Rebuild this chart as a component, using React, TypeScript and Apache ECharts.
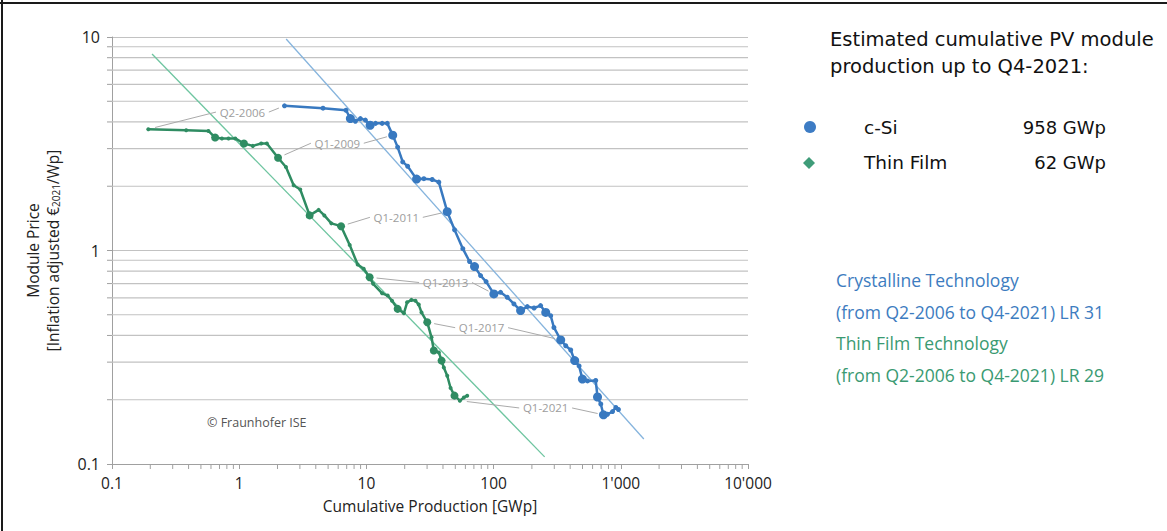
import React, { useEffect, useRef } from "react";
import * as echarts from "echarts";

// Axis ranges (GWp on x, €/Wp on y)
const X_MIN = 0.1;
const X_MAX = 10000;
const Y_MIN = 0.1;
const Y_MAX = 10;

const xTickLabels = ["0.1", "1", "10", "100", "1'000", "10'000"];
const yTickLabels = ["0.1", "1", "10"];

// Crystalline silicon: cumulative production [GWp] and module price [€2021/Wp]
const cSiProduction = [
  2.27, 4.56, 6.92, 7.48, 8.19, 8.97, 9.82, 10.7, 11.8, 13.3, 14.6, 16.1, 17.6, 19.3, 21.1,
  24.8, 28.3, 32.9, 37.1, 43.2, 49.3, 57.3, 64.7, 70.8, 79.0, 87.3, 100.5, 113.5, 128, 144.5,
  163, 184, 208, 234, 257, 281, 298, 337, 369, 404, 434, 470, 499, 547, 635, 656, 696, 731,
  785, 861, 914, 958,
];
const cSiPrice = [
  4.76, 4.64, 4.54, 4.15, 4.03, 4.15, 4.08, 3.86, 3.94, 3.94, 3.94, 3.47, 3.05, 2.6, 2.48,
  2.16, 2.17, 2.15, 2.09, 1.52, 1.25, 1.02, 0.888, 0.841, 0.763, 0.715, 0.626, 0.637, 0.604,
  0.562, 0.523, 0.546, 0.538, 0.552, 0.513, 0.495, 0.436, 0.381, 0.358, 0.342, 0.305, 0.288,
  0.25, 0.245, 0.246, 0.206, 0.191, 0.17, 0.171, 0.176, 0.184, 0.18,
];
const cSiYearStart = [3, 7, 11, 15, 19, 23, 26, 30, 34, 37, 40, 42, 45, 47];

// Thin film: cumulative production [GWp] and module price [€2021/Wp]
const thinFilmProduction = [
  0.193, 0.383, 0.573, 0.647, 0.731, 0.824, 0.931, 1.09, 1.28, 1.49, 1.65, 2.02, 2.33, 2.68,
  3.02, 3.58, 4.21, 4.67, 5.3, 6.32, 7.39, 8.54, 9.52, 10.6, 11.3, 13.3, 14.7, 15.9, 17.6,
  19.7, 20.9, 22.6, 24.3, 25.8, 27.1, 30.1, 32.5, 33.9, 37.1, 39.0, 40.6, 43.2, 45.9, 49.3,
  54.3, 58.4, 62,
];
const thinFilmPrice = [
  3.7, 3.66, 3.63, 3.38, 3.35, 3.35, 3.35, 3.17, 3.09, 3.17, 3.17, 2.72, 2.46, 2.02, 1.93,
  1.46, 1.55, 1.46, 1.34, 1.3, 1.06, 0.86, 0.821, 0.749, 0.698, 0.63, 0.615, 0.582, 0.533,
  0.508, 0.572, 0.587, 0.582, 0.558, 0.513, 0.461, 0.392, 0.34, 0.333, 0.305, 0.283, 0.259,
  0.227, 0.209, 0.198, 0.205, 0.209,
];
const thinFilmYearStart = [3, 7, 11, 15, 19, 23, 28, 35, 37, 39, 43];

// Learning-curve fits
const cSiTrendProduction = [2.34, 1517];
const cSiTrendPrice = [9.79, 0.131];
const thinTrendProduction = [0.2065, 252];
const thinTrendPrice = [8.32, 0.108];

// Quarter annotations: label anchor and the points each leader line reaches
const quarterLabels = ["Q2-2006", "Q1-2009", "Q1-2011", "Q1-2013", "Q1-2017", "Q1-2021"];
const labelProduction = [1.06, 5.91, 17.2, 41.9, 80.5, 256.6];
const labelPrice = [4.45, 3.18, 1.43, 0.708, 0.435, 0.183];
const labelThinIndex = [0, 11, 19, 23, 35, 44];
const labelCSiIndex = [0, 11, 19, 26, 37, 47];

// Minor log-scale positions
const minorPrices = [0.2, 0.3, 0.4, 0.5, 0.6, 0.7, 0.8, 0.9, 2, 3, 4, 5, 6, 7, 8, 9];
const minorProductions = [
  0.2, 0.3, 0.4, 0.5, 0.6, 0.7, 0.8, 0.9, 2, 3, 4, 5, 6, 7, 8, 9, 20, 30, 40, 50, 60, 70, 80,
  90, 200, 300, 400, 500, 600, 700, 800, 900, 2000, 3000, 4000, 5000, 6000, 7000, 8000, 9000,
];

const FONT = '"Open Sans", "Noto Sans", sans-serif';
const WIDE_FONT = '"DejaVu Sans", "Open Sans", sans-serif';
const BLUE = "#3879c0";
const GREEN = "#2f8c62";
const BLUE_TREND = "#86b4dd";
const GREEN_TREND = "#6ec5a0";
const GRID = "#c2c2c2";
const AXIS = "#a0a0a0";
const NOTE = "#9d9d9d";
const TEXT = "#222222";
const BLUE_TEXT = "#3d7cc0";
const GREEN_TEXT = "#3a9a72";

const logIndex = (v: number) => Math.round(Math.log10(v));

export default function App() {
  const ref = useRef<HTMLDivElement>(null);

  useEffect(() => {
    if (!ref.current) return;
    const chart = echarts.init(ref.current, null, { renderer: "svg" });

    const cSiData = cSiProduction.map((x, i) => ({
      value: [x, cSiPrice[i]],
      symbolSize: cSiYearStart.includes(i) ? 9 : 5,
    }));
    const thinData = thinFilmProduction.map((x, i) => ({
      value: [x, thinFilmPrice[i]],
      symbolSize: thinFilmYearStart.includes(i) ? 8 : 4,
    }));

    const option: any = {
      animation: false,
      backgroundColor: "#ffffff",
      textStyle: { fontFamily: FONT },
      grid: { left: 112, right: 419, top: 37, bottom: 67 },
      xAxis: {
        type: "log",
        logBase: 10,
        min: X_MIN,
        max: X_MAX,
        axisLine: { show: true, lineStyle: { color: AXIS, width: 1 } },
        axisTick: { show: true, length: 5, lineStyle: { color: AXIS, width: 1 } },
        splitLine: { show: false },
        axisLabel: {
          color: TEXT,
          fontSize: 15.5,
          fontFamily: FONT,
          margin: 11,
          formatter: (v: number) => xTickLabels[logIndex(v) + 1] ?? "",
        },
        name: "Cumulative Production [GWp]",
        nameLocation: "middle",
        nameGap: 34,
        nameTextStyle: { color: TEXT, fontSize: 15.5, fontFamily: FONT },
      },
      yAxis: {
        type: "log",
        logBase: 10,
        min: Y_MIN,
        max: Y_MAX,
        axisLine: { show: true, lineStyle: { color: AXIS, width: 1 } },
        axisTick: { show: true, length: 5, lineStyle: { color: AXIS, width: 1 } },
        splitLine: { show: true, lineStyle: { color: GRID, width: 1.2 } },
        axisLabel: {
          color: TEXT,
          fontSize: 16,
          fontFamily: FONT,
          margin: 12,
          formatter: (v: number) => yTickLabels[logIndex(v) + 1] ?? "",
        },
        name: "{t|Module Price}\n{t|[Inflation adjusted €}{s|2021}{t|/Wp]}",
        nameLocation: "middle",
        nameGap: 49,
        nameRotate: 90,
        nameTextStyle: {
          rich: {
            t: { fontSize: 15.5, color: TEXT, fontFamily: FONT, lineHeight: 20 },
            s: {
              fontSize: 10,
              color: TEXT,
              fontFamily: FONT,
              lineHeight: 20,
              verticalAlign: "bottom",
              padding: [0, 0, 2, 0],
            },
          },
        },
      },
      series: [
        {
          // minor horizontal gridlines with their ticks
          type: "custom",
          z: 1,
          silent: true,
          clip: false,
          data: minorPrices.map((v) => [X_MIN, v]),
          encode: { x: 0, y: 1 },
          renderItem: (_p: any, api: any) => {
            const v = api.value(1);
            const a = api.coord([X_MIN, v]);
            const b = api.coord([X_MAX, v]);
            return {
              type: "group",
              children: [
                {
                  type: "line",
                  shape: { x1: a[0], y1: a[1], x2: b[0], y2: b[1] },
                  style: { stroke: GRID, lineWidth: 1.2 },
                },
                {
                  type: "line",
                  shape: { x1: a[0] - 5, y1: a[1], x2: a[0], y2: a[1] },
                  style: { stroke: AXIS, lineWidth: 1 },
                },
              ],
            };
          },
        },
        {
          // minor ticks on the production axis
          type: "custom",
          z: 1,
          silent: true,
          clip: false,
          data: minorProductions.map((v) => [v, Y_MIN]),
          encode: { x: 0, y: 1 },
          renderItem: (_p: any, api: any) => {
            const p = api.coord([api.value(0), Y_MIN]);
            return {
              type: "line",
              shape: { x1: p[0], y1: p[1], x2: p[0], y2: p[1] + 5 },
              style: { stroke: AXIS, lineWidth: 1 },
            };
          },
        },
        {
          name: "c-Si trend",
          type: "line",
          z: 2,
          silent: true,
          symbol: "none",
          data: cSiTrendProduction.map((x, i) => [x, cSiTrendPrice[i]]),
          lineStyle: { color: BLUE_TREND, width: 1.3 },
        },
        {
          name: "Thin Film trend",
          type: "line",
          z: 2,
          silent: true,
          symbol: "none",
          data: thinTrendProduction.map((x, i) => [x, thinTrendPrice[i]]),
          lineStyle: { color: GREEN_TREND, width: 1.3 },
        },
        {
          // quarter annotations with leader lines
          type: "custom",
          z: 3,
          silent: true,
          clip: false,
          data: quarterLabels.map((_, i) => [labelProduction[i], labelPrice[i], i]),
          encode: { x: 0, y: 1 },
          renderItem: (_p: any, api: any) => {
            const i = api.value(2);
            const c = api.coord([api.value(0), api.value(1)]);
            const gi = labelThinIndex[i];
            const bi = labelCSiIndex[i];
            const g = api.coord([thinFilmProduction[gi], thinFilmPrice[gi]]);
            const b = api.coord([cSiProduction[bi], cSiPrice[bi]]);
            const hw = (quarterLabels[i].length * 6.7) / 2;
            const L = [c[0] - hw - 3, c[1]];
            const R = [c[0] + hw + 3, c[1]];
            const shorten = (from: number[], to: number[], gap: number) => {
              const dx = to[0] - from[0];
              const dy = to[1] - from[1];
              const d = Math.hypot(dx, dy) || 1;
              return [from[0] + (dx / d) * gap, from[1] + (dy / d) * gap];
            };
            const gs = shorten(g, L, 7);
            const be = shorten(b, R, 6);
            return {
              type: "group",
              children: [
                {
                  type: "line",
                  shape: { x1: gs[0], y1: gs[1], x2: L[0], y2: L[1] },
                  style: { stroke: "#aaaaaa", lineWidth: 1 },
                },
                {
                  type: "line",
                  shape: { x1: R[0], y1: R[1], x2: be[0], y2: be[1] },
                  style: { stroke: "#aaaaaa", lineWidth: 1 },
                },
                {
                  type: "text",
                  x: c[0],
                  y: c[1],
                  style: {
                    text: quarterLabels[i],
                    fill: NOTE,
                    fontSize: 11.5,
                    fontFamily: FONT,
                    align: "center",
                    verticalAlign: "middle",
                  },
                },
              ],
            };
          },
        },
        {
          name: "Thin Film",
          type: "line",
          z: 4,
          silent: true,
          symbol: "circle",
          data: thinData,
          lineStyle: { color: GREEN, width: 2.5 },
          itemStyle: { color: GREEN },
        },
        {
          name: "c-Si",
          type: "line",
          z: 5,
          silent: true,
          symbol: "circle",
          data: cSiData,
          lineStyle: { color: BLUE, width: 2.5 },
          itemStyle: { color: BLUE },
        },
      ],
      graphic: [
        // frame
        { type: "line", shape: { x1: 0, y1: 3, x2: 1167, y2: 3 }, style: { stroke: "#1a1a1a", lineWidth: 2 } },
        { type: "line", shape: { x1: 2, y1: 0, x2: 2, y2: 531 }, style: { stroke: "#1a1a1a", lineWidth: 2 } },
        {
          type: "text",
          left: 207,
          top: 416,
          style: { text: "© Fraunhofer ISE", fill: "#555555", fontSize: 12.5, fontFamily: FONT },
        },
        {
          type: "text",
          left: 830,
          top: 26,
          style: {
            text: "Estimated cumulative PV module\nproduction up to Q4-2021:",
            fill: "#111111",
            fontSize: 19.5,
            lineHeight: 27,
            fontFamily: WIDE_FONT,
          },
        },
        { type: "circle", shape: { cx: 810, cy: 127, r: 6 }, style: { fill: "#3d7cc4" } },
        {
          type: "polygon",
          shape: { points: [[809, 157], [815, 163], [809, 169], [803, 163]] },
          style: { fill: "#3f9c79" },
        },
        {
          type: "text",
          x: 864,
          y: 127,
          style: { text: "c-Si", fill: "#111111", fontSize: 18.5, fontFamily: WIDE_FONT, verticalAlign: "middle" },
        },
        {
          type: "text",
          x: 1106,
          y: 127,
          style: {
            text: "958 GWp",
            fill: "#111111",
            fontSize: 18,
            fontFamily: WIDE_FONT,
            align: "right",
            verticalAlign: "middle",
          },
        },
        {
          type: "text",
          x: 864,
          y: 162,
          style: { text: "Thin Film", fill: "#111111", fontSize: 18.5, fontFamily: WIDE_FONT, verticalAlign: "middle" },
        },
        {
          type: "text",
          x: 1106,
          y: 162,
          style: {
            text: "62 GWp",
            fill: "#111111",
            fontSize: 18,
            fontFamily: WIDE_FONT,
            align: "right",
            verticalAlign: "middle",
          },
        },
        {
          type: "text",
          x: 836,
          y: 280,
          style: { text: "Crystalline Technology", fill: BLUE_TEXT, fontSize: 17.5, fontFamily: FONT, verticalAlign: "middle" },
        },
        {
          type: "text",
          x: 836,
          y: 312,
          style: {
            text: "(from Q2-2006 to Q4-2021) LR 31",
            fill: BLUE_TEXT,
            fontSize: 17.5,
            fontFamily: FONT,
            verticalAlign: "middle",
          },
        },
        {
          type: "text",
          x: 836,
          y: 343,
          style: { text: "Thin Film Technology", fill: GREEN_TEXT, fontSize: 17.5, fontFamily: FONT, verticalAlign: "middle" },
        },
        {
          type: "text",
          x: 836,
          y: 375,
          style: {
            text: "(from Q2-2006 to Q4-2021) LR 29",
            fill: GREEN_TEXT,
            fontSize: 17.5,
            fontFamily: FONT,
            verticalAlign: "middle",
          },
        },
      ],
    };

    chart.setOption(option);
    return () => chart.dispose();
  }, []);

  return (
    <div
      ref={ref}
      style={{ position: "absolute", left: 0, top: 0, width: 1167, height: 531, background: "#fff" }}
    />
  );
}
